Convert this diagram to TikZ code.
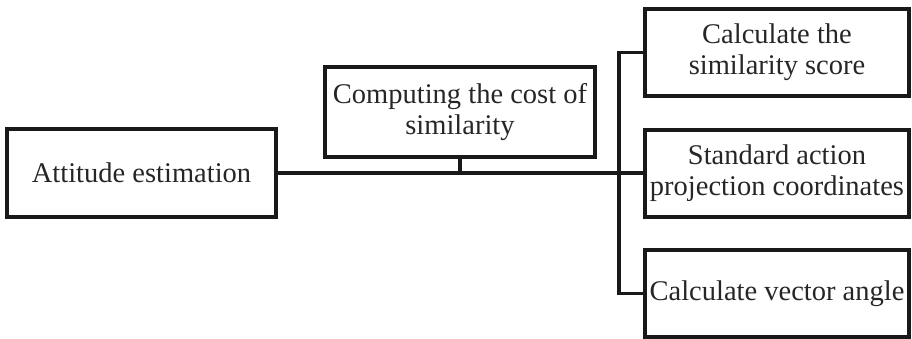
\documentclass[tikz,border=0pt]{standalone}
\usepackage{fontspec}
\setmainfont{Liberation Serif}
\begin{document}
\begin{tikzpicture}[x=1pt,y=-1pt,
  box/.style={draw=black!90,line width=3.6pt,rectangle,inner sep=0pt,align=center,
    font=\fontsize{28.5}{31}\selectfont,text=black!85},
  conn/.style={draw=black!90,line width=3.6pt,line join=miter}]
\useasboundingbox (0,0) rectangle (912,339);
\node[box,minimum width=269pt,minimum height=88pt] (att) at (141.5,173) {Attitude estimation};
\node[box,minimum width=270pt,minimum height=90pt] (comp) at (460,112) {Computing the cost of\\similarity};
\node[box,minimum width=264pt,minimum height=87pt] (top) at (777,52.5) {Calculate the\\similarity score};
\node[box,minimum width=264pt,minimum height=87pt] (std) at (777,173.5) {Standard action\\projection coordinates};
\node[box,minimum width=264pt,minimum height=87pt] (bot) at (777,293.5) {Calculate vector angle};
\coordinate (bx) at (619,173);
\draw[conn] (att.east) -- (att.east -| std.west);
\draw[conn] (comp.south) -- (comp.south |- att.east);
\draw[conn] (top.west) -| (bx) |- (bot.west);
\end{tikzpicture}
\end{document}
